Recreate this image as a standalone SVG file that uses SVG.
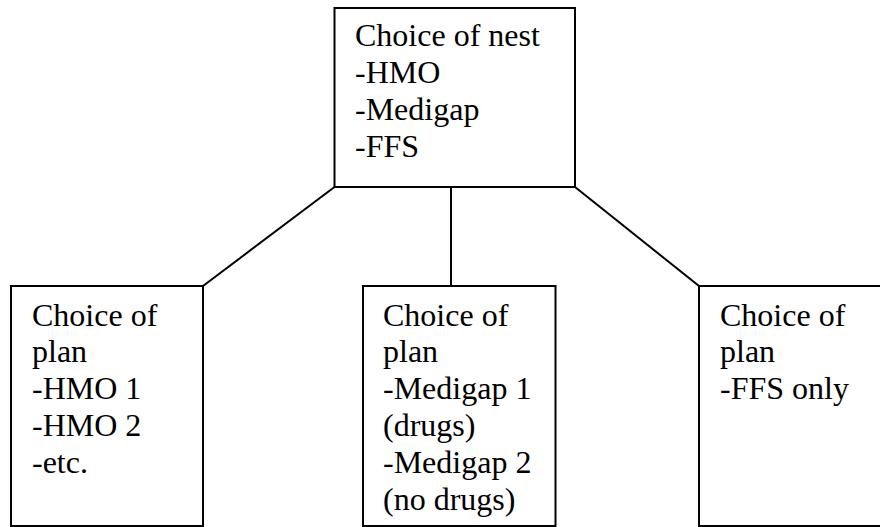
<svg xmlns="http://www.w3.org/2000/svg" width="880" height="527" viewBox="0 0 880 527">
<style>
.box{fill:#fff;stroke:#000;stroke-width:2}
.con{stroke:#000;stroke-width:2;fill:none}
.t{font-family:'Liberation Serif','Times New Roman',Times,'DejaVu Serif',serif;font-size:32px;fill:#000}
</style>
<rect width="880" height="527" fill="#fff"/>
<g id="connectors">
<line class="con" x1="203" y1="286" x2="334.5" y2="187"/>
<line class="con" x1="451" y1="187" x2="451" y2="286"/>
<line class="con" x1="575" y1="187" x2="699" y2="286"/>
</g>
<g id="nest" class="t">
<rect class="box" x="334.5" y="8" width="240.5" height="179"/>
<text x="355" y="46">Choice of nest</text>
<text x="355" y="83">-HMO</text>
<text x="355" y="120">-Medigap</text>
<text x="355" y="157">-FFS</text>
</g>
<g id="plan-hmo" class="t">
<rect class="box" x="11" y="286" width="192" height="240"/>
<text x="32" y="326">Choice of</text>
<text x="32" y="362">plan</text>
<text x="32" y="399">-HMO 1</text>
<text x="32" y="436">-HMO 2</text>
<text x="32" y="473">-etc.</text>
</g>
<g id="plan-medigap" class="t">
<rect class="box" x="363" y="286" width="192.5" height="240"/>
<text x="383" y="326">Choice of</text>
<text x="383" y="362">plan</text>
<text x="383" y="399">-Medigap 1</text>
<text x="383" y="436">(drugs)</text>
<text x="383" y="473">-Medigap 2</text>
<text x="383" y="510">(no drugs)</text>
</g>
<g id="plan-ffs" class="t">
<rect class="box" x="699" y="286" width="200" height="240"/>
<text x="720" y="326">Choice of</text>
<text x="720" y="362">plan</text>
<text x="720" y="399">-FFS only</text>
</g>
</svg>
